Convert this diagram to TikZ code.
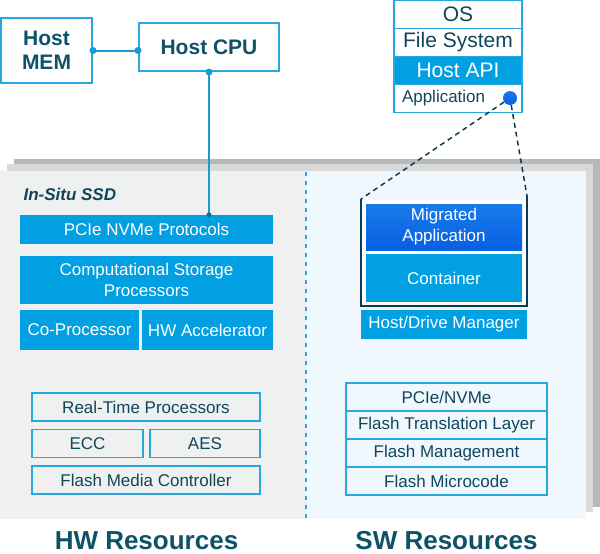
\documentclass[tikz,border=0pt]{standalone}
\usepackage{fontspec}
\setmainfont{Liberation Sans}
\usepackage{tikz}
\usetikzlibrary{
    positioning
}

\definecolor{ssdblue}{RGB}{0,160,227}
\definecolor{migtop}{RGB}{26,122,232}
\definecolor{migbot}{RGB}{6,96,226}
\definecolor{lineblue}{RGB}{41,168,224}
\definecolor{linkblue}{RGB}{22,156,214}
\definecolor{darktext}{RGB}{16,70,90}
\definecolor{titletext}{RGB}{14,82,104}
\definecolor{hwgray}{RGB}{239,240,240}
\definecolor{swblue}{RGB}{240,248,254}
\definecolor{backgray}{RGB}{184,184,184}
\definecolor{midgray}{RGB}{217,217,217}
\definecolor{navy}{RGB}{13,58,80}

\tikzset{
    fillbox/.style={fill=ssdblue, text=white, inner sep=0pt, align=center,
        font=\fontsize{17}{21}\selectfont},
    framebox/.style={draw=lineblue, line width=1.5pt, text=darktext,
        inner sep=0pt, font=\fontsize{17}{21}\selectfont},
    hostbox/.style={draw=lineblue, line width=2pt, fill=white, text=titletext,
        inner sep=0pt, align=center, font=\bfseries\fontsize{21}{24}\selectfont},
    osbox/.style={draw=lineblue, line width=1.5pt, fill=white, text=darktext,
        minimum width=128pt, minimum height=28pt, inner sep=0pt, outer sep=0pt,
        font=\fontsize{21}{21}\selectfont},
    swbox/.style={draw=lineblue, line width=1.5pt, fill=swblue, text=darktext,
        minimum width=201pt, minimum height=28pt, inner sep=0pt, outer sep=0pt,
        font=\fontsize{17}{21}\selectfont},
    link/.style={linkblue, line width=2pt},
    linkdot/.style={circle, fill=linkblue, inner sep=0pt, minimum size=7pt},
    migline/.style={navy, line width=1.5pt, dash pattern=on 5pt off 4pt},
    restitle/.style={text=titletext, font=\bfseries\fontsize{26}{26}\selectfont}
}

\begin{document}
\begin{tikzpicture}[x=1pt,y=-1pt]
\useasboundingbox (0,0) rectangle (600,554);

% Panels
\fill[backgray] (14,159) rectangle (600,507);
\fill[midgray] (7,164) rectangle (593,512);
\fill[hwgray] (0,171) rectangle (306,519);
\fill[swblue] (306,171) rectangle (586,519);
\draw[lineblue, line width=1.5pt, dash pattern=on 4pt off 5pt] (306,172) -- (306,519);

% Host
\node[hostbox, minimum width=91pt, minimum height=65pt] (mem) at (46.5,50.5) {Host\\MEM};
\node[hostbox, minimum width=140pt, minimum height=48pt] (cpu) at (209,47) {Host CPU};

% HW side
\node[anchor=west, text=darktext, font=\bfseries\itshape\fontsize{17}{17}\selectfont]
    (ssd) at (20,194) {In-Situ SSD};
\node[fillbox, minimum width=253pt, minimum height=29pt] (pcie) at (146.5,229.5) {PCIe NVMe Protocols};
\node[fillbox, minimum width=253pt, minimum height=48pt] (csp) at (146.5,280) {Computational Storage\\Processors};
\node[fillbox, minimum width=119pt, minimum height=40pt] (copro) at (79.5,330) {Co-Processor};
\node[fillbox, minimum width=131pt, minimum height=40pt] (hwacc) at (207.5,330) {HW Accelerator};

\node[framebox, minimum width=228pt, minimum height=28pt] (rtp) at (146,407) {Real-Time Processors};
\node[framebox, minimum width=111pt, minimum height=28pt] (ecc) at (87.5,443.5) {ECC};
\node[framebox, minimum width=110pt, minimum height=28pt] (aes) at (205,443.5) {AES};
\node[framebox, minimum width=228pt, minimum height=28pt] (fmc) at (146,480) {Flash Media Controller};

\node[restitle] (hwres) at (146.5,541) {HW Resources};

% Host links
\draw[link] (mem.east) -- (mem.east -| cpu.west);
\node[linkdot] at (mem.east) {};
\node[linkdot] at (mem.east -| cpu.west) {};
\draw[link] (cpu.south) -- (pcie.north -| cpu.south);
\node[linkdot] at (cpu.south) {};
\node[linkdot, minimum size=5pt, fill=linkblue!70!black] at (pcie.north -| cpu.south) {};

% OS stack
\node[osbox] (os) at (458,14.5) {OS};
\node[osbox, below=0pt of os] (fs) {File System};
\node[osbox, below=0pt of fs, fill=ssdblue, text=white] (api) {Host API};
\node[osbox, below=0pt of api, text width=112pt, align=left,
      font=\fontsize{17}{17}\selectfont] (app) {Application};
\node[circle, inner sep=0pt, minimum size=14pt, top color=migtop, bottom color=migbot]
    (appdot) at (510,98) {};

% SW side
\coordinate (brl) at (361,199);
\coordinate (brr) at (527,196);
\fill[white] (362,200) rectangle (526,305);
\draw[navy, line width=2pt] (brl) -- (361,306) -- (527,306) -- (brr);
\draw[migline] (appdot) -- (brl);
\draw[migline] (appdot) -- (brr);

\node[fillbox, minimum width=156pt, minimum height=46pt, top color=migtop, bottom color=migbot]
    (mig) at (444,227) {Migrated\\Application};
\node[fillbox, minimum width=156pt, minimum height=48pt] (cont) at (444,278) {Container};
\node[fillbox, minimum width=166pt, minimum height=29pt] (hdm) at (444,324.5) {Host/Drive Manager};

\node[swbox] (sw1) at (446.5,397) {PCIe/NVMe};
\node[swbox, below=0pt of sw1] (sw2) {Flash Translation Layer};
\node[swbox, below=0pt of sw2] (sw3) {Flash Management};
\node[swbox, below=0pt of sw3] (sw4) {Flash Microcode};

\node[restitle] (swres) at (446.5,541) {SW Resources};

\end{tikzpicture}
\end{document}
